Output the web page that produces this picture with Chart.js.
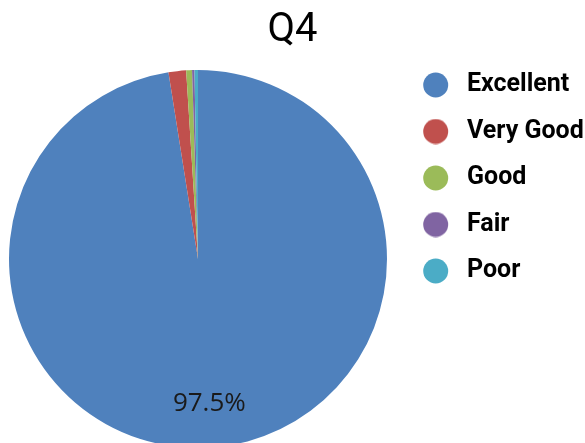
<!DOCTYPE html>
<html>
<head>
<meta charset="utf-8">
<script src="https://cdn.jsdelivr.net/npm/chart.js"></script>
<style>
  html, body { margin: 0; padding: 0; background: #fff; overflow: hidden; }
  canvas { display: block; }
</style>
</head>
<body>
<canvas id="chart" width="585" height="448"></canvas>
<script>
const chartTitle = 'Q4'
const categories = ['Excellent', 'Very Good', 'Good', 'Fair', 'Poor']
const percentages = [97.5, 1.5, 0.5, 0.2, 0.3]
const sliceColors = ['#4F81BD', '#C0504D', '#9BBB59', '#8064A2', '#4BACC6']

// round legend markers drawn into small canvases, so the text gap can be wider
function legendDot(color) {
  const c = document.createElement('canvas')
  c.width = 36
  c.height = 26
  const ctx = c.getContext('2d')
  ctx.fillStyle = color
  ctx.beginPath()
  ctx.arc(17.7, 13, 12.5, 0, Math.PI * 2)
  ctx.fill()
  return c
}

const sliceLabels = {
  id: 'sliceLabels',
  afterDatasetsDraw(chart) {
    const { ctx } = chart
    const meta = chart.getDatasetMeta(0)
    const values = chart.data.datasets[0].data
    ctx.save()
    ctx.font = '26px "Open Sans"'
    ctx.fillStyle = '#1a1a1a'
    ctx.textAlign = 'center'
    ctx.textBaseline = 'middle'
    meta.data.forEach((arc, i) => {
      if (values[i] < 5) return
      const p = arc.getProps(['x', 'y', 'startAngle', 'endAngle', 'outerRadius'], true)
      const mid = (p.startAngle + p.endAngle) / 2
      const r = p.outerRadius * 0.765
      ctx.fillText(values[i].toFixed(1) + '%', p.x + Math.cos(mid) * r, p.y + Math.sin(mid) * r)
    })
    ctx.restore()
  }
}

new Chart(document.getElementById('chart'), {
  type: 'pie',
  data: {
    labels: categories,
    datasets: [{
      data: percentages,
      backgroundColor: sliceColors,
      borderWidth: 0
    }]
  },
  options: {
    responsive: false,
    animation: false,
    layout: { padding: 0 },
    plugins: {
      title: {
        display: true,
        text: chartTitle,
        color: '#000',
        font: { family: 'Roboto', size: 40, weight: 'normal', lineHeight: 1.2 },
        padding: { top: 7, bottom: 15 }
      },
      legend: {
        position: 'right',
        align: 'start',
        fullSize: true,
        maxWidth: 189,
        title: {
          display: true,
          text: '',
          font: { size: 10, lineHeight: 1 },
          padding: { top: 41, bottom: 0 }
        },
        labels: {
          color: '#000',
          font: { family: 'Roboto', size: 25, weight: 'bold' },
          usePointStyle: true,
          pointStyleWidth: 37,
          padding: 21.5,
          generateLabels(chart) {
            return categories.map((name, i) => ({
              text: name,
              fillStyle: sliceColors[i],
              strokeStyle: sliceColors[i],
              fontColor: '#000',
              lineWidth: 0,
              pointStyle: legendDot(sliceColors[i]),
              hidden: false,
              index: i
            }))
          }
        }
      },
      tooltip: { enabled: false }
    }
  },
  plugins: [sliceLabels]
})
</script>
</body>
</html>
